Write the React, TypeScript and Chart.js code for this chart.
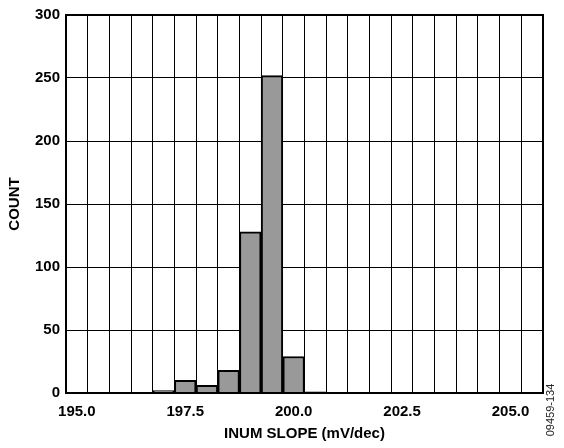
import React, { useEffect, useRef } from 'react';
import { Chart, registerables } from 'chart.js';

Chart.register(...registerables);

// Histogram bins (bin centres, mV/dec), each bin 0.5 mV/dec wide
const binLabels = [
  '195.0', '195.5', '196.0', '196.5', '197.0', '197.5', '198.0', '198.5',
  '199.0', '199.5', '200.0', '200.5', '201.0', '201.5', '202.0', '202.5',
  '203.0', '203.5', '204.0', '204.5', '205.0', '205.5',
];
// Counts per bin (null = empty bin)
const counts: (number | null)[] = [
  null, null, null, null, 2, 10, 6, 18,
  128, 252, 29, 1, null, null, null, null,
  null, null, null, null, null, null,
];
// X tick labels that are printed
const shownXTicks = ['195.0', '197.5', '200.0', '202.5', '205.0'];
const yMin = 0;
const yMax = 300;
const yStep = 50;

const xTitle = 'INUM SLOPE (mV/dec)';
const yTitle = 'COUNT';
const figureId = '09459-134';

const FONT = '"Liberation Sans", Arial, Helvetica, sans-serif';

export default function App() {
  const ref = useRef<HTMLCanvasElement | null>(null);

  useEffect(() => {
    if (!ref.current) return;

    const framePlugin = {
      id: 'frame',
      afterDatasetsDraw(chart: any) {
        const { ctx, chartArea } = chart;
        ctx.save();
        ctx.strokeStyle = '#000';
        ctx.lineWidth = 2;
        ctx.strokeRect(chartArea.left, chartArea.top, chartArea.right - chartArea.left, chartArea.bottom - chartArea.top);
        ctx.restore();
      },
      afterDraw(chart: any) {
        const { ctx } = chart;
        ctx.save();
        ctx.translate(551, 410);
        ctx.rotate(-Math.PI / 2);
        ctx.font = `11px ${FONT}`;
        ctx.fillStyle = '#222';
        ctx.textAlign = 'center';
        ctx.textBaseline = 'middle';
        ctx.fillText(figureId, 0, 0);
        ctx.restore();
      },
    };

    const chart = new Chart(ref.current, {
      type: 'bar',
      data: {
        labels: binLabels,
        datasets: [
          {
            data: counts as any,
            backgroundColor: '#999999',
            borderColor: '#000000',
            borderWidth: 2,
            barPercentage: 1,
            categoryPercentage: 1,
          },
        ],
      },
      options: {
        animation: false,
        responsive: false,
        maintainAspectRatio: false,
        layout: { padding: { left: 0, right: 21, top: 13, bottom: 0 } },
        plugins: {
          legend: { display: false },
          tooltip: { enabled: false },
        },
        scales: {
          x: {
            type: 'category',
            offset: true,
            grid: {
              offset: true,
              color: '#000',
              lineWidth: 1,
              drawTicks: false,
            },
            border: { display: true, color: '#000', width: 2 },
            ticks: {
              autoSkip: false,
              maxRotation: 0,
              minRotation: 0,
              padding: 10,
              color: '#000',
              font: { family: FONT, size: 15, weight: 'bold' },
              callback: (_v: any, i: number) => (shownXTicks.includes(binLabels[i]) ? binLabels[i] : ''),
            },
            title: {
              display: true,
              text: xTitle,
              color: '#000',
              font: { family: FONT, size: 15, weight: 'bold' },
              padding: { top: 0, bottom: 5 },
            },
            afterFit: (scale: any) => {
              scale.height = 55;
            },
          },
          y: {
            min: yMin,
            max: yMax,
            grid: { color: '#000', lineWidth: 1, drawTicks: false },
            border: { display: true, color: '#000', width: 2 },
            ticks: {
              stepSize: yStep,
              padding: 6,
              color: '#000',
              font: { family: FONT, size: 15, weight: 'bold' },
            },
            title: {
              display: true,
              text: yTitle,
              color: '#000',
              font: { family: FONT, size: 15, weight: 'bold' },
              padding: { top: 6, bottom: 0 },
            },
            afterFit: (scale: any) => {
              scale.width = 66;
            },
          },
        },
      },
      plugins: [framePlugin],
    } as any);

    return () => chart.destroy();
  }, []);

  return (
    <div style={{ position: 'absolute', left: 0, top: 0, width: 564, height: 448, background: '#fff' }}>
      <canvas ref={ref} width={564} height={448} style={{ width: 564, height: 448, display: 'block' }} />
    </div>
  );
}
